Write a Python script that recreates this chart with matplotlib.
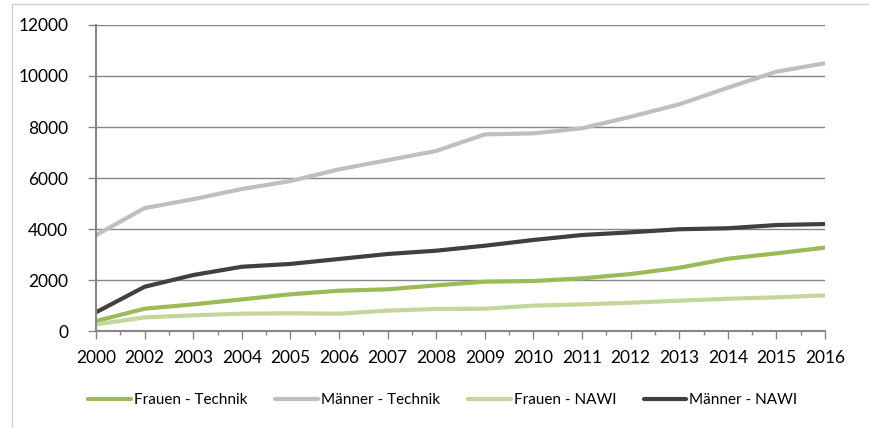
import matplotlib.pyplot as plt
from matplotlib.patches import Rectangle
from matplotlib.ticker import MultipleLocator

plt.rcParams['font.family'] = ['Lato', 'DejaVu Sans']

years = ['2000', '2002', '2003', '2004', '2005', '2006', '2007', '2008',
         '2009', '2010', '2011', '2012', '2013', '2014', '2015', '2016']
frauen_technik = [390, 875, 1045, 1240, 1440, 1580, 1635, 1790, 1935, 1960,
                  2065, 2235, 2480, 2835, 3045, 3270]
maenner_technik = [3760, 4820, 5170, 5570, 5880, 6340, 6700, 7060, 7710, 7750,
                   7950, 8400, 8890, 9540, 10170, 10500]
frauen_nawi = [260, 535, 615, 680, 695, 680, 800, 865, 875, 995,
               1045, 1110, 1190, 1265, 1320, 1400]
maenner_nawi = [735, 1735, 2195, 2520, 2630, 2825, 3020, 3150, 3345, 3570,
                3765, 3870, 3990, 4030, 4155, 4195]

series = [
    ('Frauen - Technik', frauen_technik, '#9BBB59'),
    ('Männer - Technik', maenner_technik, '#BFBFBF'),
    ('Frauen - NAWI', frauen_nawi, '#C3D69B'),
    ('Männer - NAWI', maenner_nawi, '#404040'),
]

fig, ax = plt.subplots(figsize=(8.69, 4.28), dpi=100)
fig.subplots_adjust(left=0.1105, right=0.9494, top=0.9416, bottom=0.2266)

x = list(range(len(years)))
for name, vals, col in series:
    ax.plot(x, vals, color=col, lw=3, label=name, solid_capstyle='round')

ax.set_xlim(0, len(years) - 1)
ax.set_ylim(0, 12000)
ax.set_yticks(range(0, 12001, 2000))
ax.set_xticks(x)
ax.set_xticklabels(years)
ax.xaxis.set_minor_locator(MultipleLocator(0.5))
ax.grid(axis='y', color='#868686', lw=1)
ax.set_axisbelow(True)

for s in ['top', 'right']:
    ax.spines[s].set_visible(False)
for s in ['left', 'bottom']:
    ax.spines[s].set_color('#868686')
    ax.spines[s].set_linewidth(1.5)

ax.tick_params(axis='both', which='major', color='#868686', length=6, width=1,
               labelsize=12.5, labelcolor='black')
ax.tick_params(axis='x', which='minor', color='#868686', length=3, width=1)
ax.tick_params(axis='x', pad=8)
ax.tick_params(axis='y', pad=14)

fig.legend(loc='center', bbox_to_anchor=(443 / 869, 1 - 400 / 428), ncol=4,
           frameon=False, fontsize=11, handlelength=2.8, handletextpad=0.2,
           columnspacing=1.8)

fig.patches.append(Rectangle((12 / 869, -0.1), 1.2, (1 - 4 / 428) + 0.1,
                             transform=fig.transFigure, fill=False,
                             edgecolor='#D0D0D0', lw=1))

fig.savefig('out.png', dpi=100)
